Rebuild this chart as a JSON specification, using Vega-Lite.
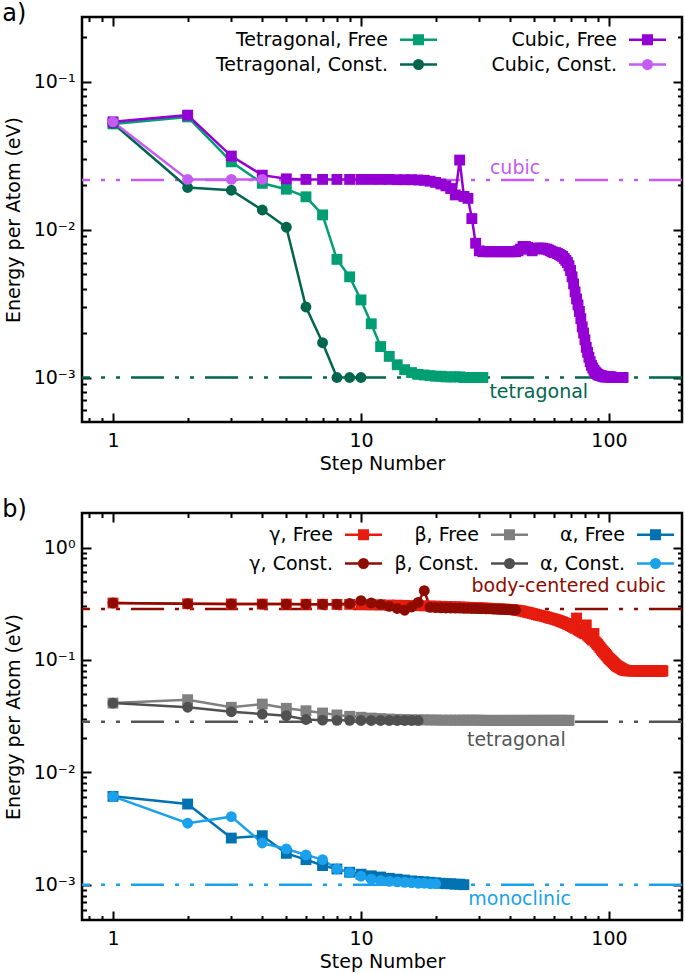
{
  "$schema": "https://vega.github.io/schema/vega-lite/v6.json",
  "padding": {"left": 0, "top": 0, "right": 0, "bottom": 0},
  "autosize": {"type": "pad"},
  "spacing": 21,
  "config": {
    "font": "DejaVu Sans",
    "view": {"stroke": "#000000", "strokeWidth": 2.5},
    "axis": {"domain": false, "grid": false, "tickColor": "#000000", "tickWidth": 2, "tickSize": -9, "labelPadding": 16,
      "labelFont": "DejaVu Sans", "labelFontSize": 19, "labelColor": "#000000", "titleFont": "DejaVu Sans", "titleFontSize": 19,
      "titleFontWeight": "normal", "titleColor": "#000000", "labelFlush": false, "labelOverlap": false},
    "legend": {"labelFont": "DejaVu Sans", "labelFontSize": 19, "labelColor": "#000000", "labelLimit": 400},
    "title": {"font": "DejaVu Sans", "fontSize": 24, "fontWeight": "normal", "color": "#000000"}
  },
  "datasets": {
    "a_ref": [
      {"phase": "cubic", "E": 0.0217, "lx": 41.8},
      {"phase": "tetragonal", "E": 0.001, "lx": 52.1}
    ],
    "b_ref": [
      {"phase": "body-centered cubic", "E": 0.284, "lx": 68.8},
      {"phase": "tetragonal", "E": 0.0282, "lx": 42.3},
      {"phase": "monoclinic", "E": 0.001, "lx": 43.6}
    ],
    "a_pts": [
      {"s":"Tetragonal, Free","step":1,"E":0.052},{"s":"Tetragonal, Free","step":2,"E":0.058},{"s":"Tetragonal, Free","step":3,"E":0.0288},{"s":"Tetragonal, Free","step":4,"E":0.0206},{"s":"Tetragonal, Free","step":5,"E":0.0188},{"s":"Tetragonal, Free","step":6,"E":0.0167},{"s":"Tetragonal, Free","step":7,"E":0.0126},{"s":"Tetragonal, Free","step":8,"E":0.0063},{"s":"Tetragonal, Free","step":9,"E":0.0048},{"s":"Tetragonal, Free","step":10,"E":0.00335},
      {"s":"Tetragonal, Free","step":11,"E":0.00231},{"s":"Tetragonal, Free","step":12,"E":0.00162},{"s":"Tetragonal, Free","step":13,"E":0.00139},{"s":"Tetragonal, Free","step":14,"E":0.00122},{"s":"Tetragonal, Free","step":15,"E":0.00113},{"s":"Tetragonal, Free","step":16,"E":0.00108},{"s":"Tetragonal, Free","step":17,"E":0.00105},{"s":"Tetragonal, Free","step":18,"E":0.00104},{"s":"Tetragonal, Free","step":19,"E":0.00103},{"s":"Tetragonal, Free","step":20,"E":0.00102},
      {"s":"Tetragonal, Free","step":21,"E":0.00102},{"s":"Tetragonal, Free","step":22,"E":0.00101},{"s":"Tetragonal, Free","step":23,"E":0.00101},{"s":"Tetragonal, Free","step":24,"E":0.00101},{"s":"Tetragonal, Free","step":25,"E":0.00101},{"s":"Tetragonal, Free","step":26,"E":0.001},{"s":"Tetragonal, Free","step":27,"E":0.001},{"s":"Tetragonal, Free","step":28,"E":0.001},{"s":"Tetragonal, Free","step":29,"E":0.001},{"s":"Tetragonal, Free","step":30,"E":0.001},{"s":"Tetragonal, Free","step":31,"E":0.001},
      {"s":"Tetragonal, Const.","step":1,"E":0.0525},{"s":"Tetragonal, Const.","step":2,"E":0.0193},{"s":"Tetragonal, Const.","step":3,"E":0.0185},{"s":"Tetragonal, Const.","step":4,"E":0.0136},{"s":"Tetragonal, Const.","step":5,"E":0.0104},{"s":"Tetragonal, Const.","step":6,"E":0.003},{"s":"Tetragonal, Const.","step":7,"E":0.00172},{"s":"Tetragonal, Const.","step":8,"E":0.001},{"s":"Tetragonal, Const.","step":9,"E":0.001},{"s":"Tetragonal, Const.","step":10,"E":0.001},
      {"s":"Cubic, Free","step":1,"E":0.0537},{"s":"Cubic, Free","step":2,"E":0.0596},{"s":"Cubic, Free","step":3,"E":0.0315},{"s":"Cubic, Free","step":4,"E":0.0234},{"s":"Cubic, Free","step":5,"E":0.0221},{"s":"Cubic, Free","step":6,"E":0.0219},{"s":"Cubic, Free","step":7,"E":0.0219},{"s":"Cubic, Free","step":8,"E":0.0219},{"s":"Cubic, Free","step":9,"E":0.0219},{"s":"Cubic, Free","step":10,"E":0.0219},
      {"s":"Cubic, Free","step":11,"E":0.0219},{"s":"Cubic, Free","step":12,"E":0.0219},{"s":"Cubic, Free","step":13,"E":0.0219},{"s":"Cubic, Free","step":14,"E":0.0218},{"s":"Cubic, Free","step":15,"E":0.0218},{"s":"Cubic, Free","step":16,"E":0.0218},{"s":"Cubic, Free","step":17,"E":0.0217},{"s":"Cubic, Free","step":18,"E":0.0216},{"s":"Cubic, Free","step":19,"E":0.0213},{"s":"Cubic, Free","step":20,"E":0.0209},
      {"s":"Cubic, Free","step":21,"E":0.0204},{"s":"Cubic, Free","step":22,"E":0.0198},{"s":"Cubic, Free","step":23,"E":0.019},{"s":"Cubic, Free","step":24,"E":0.0172},{"s":"Cubic, Free","step":25,"E":0.0296},{"s":"Cubic, Free","step":26,"E":0.0168},{"s":"Cubic, Free","step":27,"E":0.0163},{"s":"Cubic, Free","step":28,"E":0.0119},{"s":"Cubic, Free","step":29,"E":0.0081},{"s":"Cubic, Free","step":30,"E":0.0072},
      {"s":"Cubic, Free","step":31,"E":0.0071},{"s":"Cubic, Free","step":32,"E":0.0071},{"s":"Cubic, Free","step":33,"E":0.0071},{"s":"Cubic, Free","step":34,"E":0.0071},{"s":"Cubic, Free","step":35,"E":0.0071},{"s":"Cubic, Free","step":36,"E":0.0071},{"s":"Cubic, Free","step":37,"E":0.0071},{"s":"Cubic, Free","step":38,"E":0.0071},{"s":"Cubic, Free","step":39,"E":0.0071},{"s":"Cubic, Free","step":40,"E":0.0071},
      {"s":"Cubic, Free","step":41,"E":0.0071},{"s":"Cubic, Free","step":42,"E":0.0071},{"s":"Cubic, Free","step":43,"E":0.0072},{"s":"Cubic, Free","step":44,"E":0.0074},{"s":"Cubic, Free","step":45,"E":0.0077},{"s":"Cubic, Free","step":46,"E":0.0077},{"s":"Cubic, Free","step":47,"E":0.0076},{"s":"Cubic, Free","step":48,"E":0.0074},{"s":"Cubic, Free","step":49,"E":0.0072},{"s":"Cubic, Free","step":50,"E":0.0074},
      {"s":"Cubic, Free","step":51,"E":0.0075},{"s":"Cubic, Free","step":52,"E":0.0075},{"s":"Cubic, Free","step":53,"E":0.0075},{"s":"Cubic, Free","step":54,"E":0.0075},{"s":"Cubic, Free","step":55,"E":0.0074},{"s":"Cubic, Free","step":56,"E":0.0074},{"s":"Cubic, Free","step":57,"E":0.0073},{"s":"Cubic, Free","step":58,"E":0.0072},{"s":"Cubic, Free","step":59,"E":0.0071},{"s":"Cubic, Free","step":60,"E":0.007},
      {"s":"Cubic, Free","step":61,"E":0.007},{"s":"Cubic, Free","step":62,"E":0.0069},{"s":"Cubic, Free","step":63,"E":0.0068},{"s":"Cubic, Free","step":64,"E":0.0067},{"s":"Cubic, Free","step":65,"E":0.0066},{"s":"Cubic, Free","step":66,"E":0.0064},{"s":"Cubic, Free","step":67,"E":0.0062},{"s":"Cubic, Free","step":68,"E":0.006},{"s":"Cubic, Free","step":69,"E":0.0057},{"s":"Cubic, Free","step":70,"E":0.0053},
      {"s":"Cubic, Free","step":71,"E":0.0048},{"s":"Cubic, Free","step":72,"E":0.0043},{"s":"Cubic, Free","step":73,"E":0.0038},{"s":"Cubic, Free","step":74,"E":0.0034},{"s":"Cubic, Free","step":75,"E":0.0031},{"s":"Cubic, Free","step":76,"E":0.0028},{"s":"Cubic, Free","step":77,"E":0.0025},{"s":"Cubic, Free","step":78,"E":0.0022},{"s":"Cubic, Free","step":79,"E":0.002},{"s":"Cubic, Free","step":80,"E":0.0018},
      {"s":"Cubic, Free","step":81,"E":0.0016},{"s":"Cubic, Free","step":82,"E":0.00148},{"s":"Cubic, Free","step":83,"E":0.00137},{"s":"Cubic, Free","step":84,"E":0.00128},{"s":"Cubic, Free","step":85,"E":0.00121},{"s":"Cubic, Free","step":86,"E":0.00116},{"s":"Cubic, Free","step":87,"E":0.00112},{"s":"Cubic, Free","step":88,"E":0.00109},{"s":"Cubic, Free","step":89,"E":0.00107},{"s":"Cubic, Free","step":90,"E":0.00105},
      {"s":"Cubic, Free","step":91,"E":0.00104},{"s":"Cubic, Free","step":92,"E":0.00103},{"s":"Cubic, Free","step":93,"E":0.00103},{"s":"Cubic, Free","step":94,"E":0.00102},{"s":"Cubic, Free","step":95,"E":0.00102},{"s":"Cubic, Free","step":96,"E":0.00101},{"s":"Cubic, Free","step":97,"E":0.00101},{"s":"Cubic, Free","step":98,"E":0.00101},{"s":"Cubic, Free","step":99,"E":0.00101},{"s":"Cubic, Free","step":100,"E":0.00101},
      {"s":"Cubic, Free","step":101,"E":0.00101},{"s":"Cubic, Free","step":102,"E":0.00101},{"s":"Cubic, Free","step":103,"E":0.001},{"s":"Cubic, Free","step":104,"E":0.001},{"s":"Cubic, Free","step":105,"E":0.001},{"s":"Cubic, Free","step":106,"E":0.001},{"s":"Cubic, Free","step":107,"E":0.001},{"s":"Cubic, Free","step":108,"E":0.001},{"s":"Cubic, Free","step":109,"E":0.001},{"s":"Cubic, Free","step":110,"E":0.001},
      {"s":"Cubic, Free","step":111,"E":0.001},{"s":"Cubic, Free","step":112,"E":0.001},{"s":"Cubic, Free","step":113,"E":0.001},{"s":"Cubic, Free","step":114,"E":0.001},
      {"s":"Cubic, Const.","step":1,"E":0.0537},{"s":"Cubic, Const.","step":2,"E":0.0219},{"s":"Cubic, Const.","step":3,"E":0.0219},{"s":"Cubic, Const.","step":4,"E":0.0219}
    ],
    "b_pts": [
      {"s":"γ, Free","step":1,"E":0.321},{"s":"γ, Free","step":2,"E":0.316},{"s":"γ, Free","step":3,"E":0.315},{"s":"γ, Free","step":4,"E":0.314},{"s":"γ, Free","step":5,"E":0.314},{"s":"γ, Free","step":6,"E":0.313},{"s":"γ, Free","step":7,"E":0.313},{"s":"γ, Free","step":8,"E":0.312},{"s":"γ, Free","step":9,"E":0.312},{"s":"γ, Free","step":10,"E":0.311},
      {"s":"γ, Free","step":11,"E":0.31},{"s":"γ, Free","step":12,"E":0.309},{"s":"γ, Free","step":13,"E":0.308},{"s":"γ, Free","step":14,"E":0.307},{"s":"γ, Free","step":15,"E":0.306},{"s":"γ, Free","step":16,"E":0.305},{"s":"γ, Free","step":17,"E":0.304},{"s":"γ, Free","step":18,"E":0.303},{"s":"γ, Free","step":19,"E":0.302},{"s":"γ, Free","step":20,"E":0.301},
      {"s":"γ, Free","step":21,"E":0.3},{"s":"γ, Free","step":22,"E":0.299},{"s":"γ, Free","step":23,"E":0.298},{"s":"γ, Free","step":24,"E":0.297},{"s":"γ, Free","step":25,"E":0.296},{"s":"γ, Free","step":26,"E":0.295},{"s":"γ, Free","step":27,"E":0.294},{"s":"γ, Free","step":28,"E":0.293},{"s":"γ, Free","step":29,"E":0.292},{"s":"γ, Free","step":30,"E":0.291},
      {"s":"γ, Free","step":31,"E":0.29},{"s":"γ, Free","step":32,"E":0.289},{"s":"γ, Free","step":33,"E":0.288},{"s":"γ, Free","step":34,"E":0.287},{"s":"γ, Free","step":35,"E":0.286},{"s":"γ, Free","step":36,"E":0.285},{"s":"γ, Free","step":37,"E":0.284},{"s":"γ, Free","step":38,"E":0.283},{"s":"γ, Free","step":39,"E":0.282},{"s":"γ, Free","step":40,"E":0.281},
      {"s":"γ, Free","step":41,"E":0.28},{"s":"γ, Free","step":42,"E":0.278},{"s":"γ, Free","step":43,"E":0.276},{"s":"γ, Free","step":44,"E":0.274},{"s":"γ, Free","step":45,"E":0.271},{"s":"γ, Free","step":46,"E":0.268},{"s":"γ, Free","step":47,"E":0.265},{"s":"γ, Free","step":48,"E":0.262},{"s":"γ, Free","step":49,"E":0.259},{"s":"γ, Free","step":50,"E":0.256},
      {"s":"γ, Free","step":51,"E":0.253},{"s":"γ, Free","step":52,"E":0.25},{"s":"γ, Free","step":53,"E":0.248},{"s":"γ, Free","step":54,"E":0.246},{"s":"γ, Free","step":55,"E":0.244},{"s":"γ, Free","step":56,"E":0.241},{"s":"γ, Free","step":57,"E":0.238},{"s":"γ, Free","step":58,"E":0.235},{"s":"γ, Free","step":59,"E":0.233},{"s":"γ, Free","step":60,"E":0.231},
      {"s":"γ, Free","step":61,"E":0.228},{"s":"γ, Free","step":62,"E":0.226},{"s":"γ, Free","step":63,"E":0.223},{"s":"γ, Free","step":64,"E":0.22},{"s":"γ, Free","step":65,"E":0.217},{"s":"γ, Free","step":66,"E":0.214},{"s":"γ, Free","step":67,"E":0.211},{"s":"γ, Free","step":68,"E":0.208},{"s":"γ, Free","step":69,"E":0.205},{"s":"γ, Free","step":70,"E":0.202},
      {"s":"γ, Free","step":71,"E":0.198},{"s":"γ, Free","step":72,"E":0.195},{"s":"γ, Free","step":73,"E":0.191},{"s":"γ, Free","step":74,"E":0.236},{"s":"γ, Free","step":75,"E":0.186},{"s":"γ, Free","step":76,"E":0.183},{"s":"γ, Free","step":77,"E":0.18},{"s":"γ, Free","step":78,"E":0.177},{"s":"γ, Free","step":79,"E":0.174},{"s":"γ, Free","step":80,"E":0.171},
      {"s":"γ, Free","step":81,"E":0.205},{"s":"γ, Free","step":82,"E":0.166},{"s":"γ, Free","step":83,"E":0.162},{"s":"γ, Free","step":84,"E":0.158},{"s":"γ, Free","step":85,"E":0.154},{"s":"γ, Free","step":86,"E":0.15},{"s":"γ, Free","step":87,"E":0.172},{"s":"γ, Free","step":88,"E":0.145},{"s":"γ, Free","step":89,"E":0.141},{"s":"γ, Free","step":90,"E":0.137},
      {"s":"γ, Free","step":91,"E":0.133},{"s":"γ, Free","step":92,"E":0.129},{"s":"γ, Free","step":93,"E":0.125},{"s":"γ, Free","step":94,"E":0.121},{"s":"γ, Free","step":95,"E":0.118},{"s":"γ, Free","step":96,"E":0.115},{"s":"γ, Free","step":97,"E":0.112},{"s":"γ, Free","step":98,"E":0.109},{"s":"γ, Free","step":99,"E":0.106},{"s":"γ, Free","step":100,"E":0.103},
      {"s":"γ, Free","step":101,"E":0.101},{"s":"γ, Free","step":102,"E":0.099},{"s":"γ, Free","step":103,"E":0.097},{"s":"γ, Free","step":104,"E":0.095},{"s":"γ, Free","step":105,"E":0.093},{"s":"γ, Free","step":106,"E":0.091},{"s":"γ, Free","step":107,"E":0.089},{"s":"γ, Free","step":108,"E":0.088},{"s":"γ, Free","step":109,"E":0.087},{"s":"γ, Free","step":110,"E":0.086},
      {"s":"γ, Free","step":111,"E":0.085},{"s":"γ, Free","step":112,"E":0.084},{"s":"γ, Free","step":113,"E":0.083},{"s":"γ, Free","step":114,"E":0.082},{"s":"γ, Free","step":115,"E":0.0815},{"s":"γ, Free","step":116,"E":0.081},{"s":"γ, Free","step":117,"E":0.0805},{"s":"γ, Free","step":118,"E":0.0802},{"s":"γ, Free","step":119,"E":0.0802},{"s":"γ, Free","step":120,"E":0.0802},
      {"s":"γ, Free","step":121,"E":0.0802},{"s":"γ, Free","step":122,"E":0.0802},{"s":"γ, Free","step":123,"E":0.0802},{"s":"γ, Free","step":124,"E":0.0801},{"s":"γ, Free","step":125,"E":0.0801},{"s":"γ, Free","step":126,"E":0.08},{"s":"γ, Free","step":127,"E":0.08},{"s":"γ, Free","step":128,"E":0.08},{"s":"γ, Free","step":129,"E":0.08},{"s":"γ, Free","step":130,"E":0.08},
      {"s":"γ, Free","step":131,"E":0.08},{"s":"γ, Free","step":132,"E":0.08},{"s":"γ, Free","step":133,"E":0.08},{"s":"γ, Free","step":134,"E":0.08},{"s":"γ, Free","step":135,"E":0.08},{"s":"γ, Free","step":136,"E":0.08},{"s":"γ, Free","step":137,"E":0.08},{"s":"γ, Free","step":138,"E":0.08},{"s":"γ, Free","step":139,"E":0.08},{"s":"γ, Free","step":140,"E":0.08},
      {"s":"γ, Free","step":141,"E":0.0799},{"s":"γ, Free","step":142,"E":0.0799},{"s":"γ, Free","step":143,"E":0.0799},{"s":"γ, Free","step":144,"E":0.0799},{"s":"γ, Free","step":145,"E":0.0799},{"s":"γ, Free","step":146,"E":0.0799},{"s":"γ, Free","step":147,"E":0.0799},{"s":"γ, Free","step":148,"E":0.0799},{"s":"γ, Free","step":149,"E":0.0799},{"s":"γ, Free","step":150,"E":0.0799},
      {"s":"γ, Free","step":151,"E":0.0798},{"s":"γ, Free","step":152,"E":0.0798},{"s":"γ, Free","step":153,"E":0.0798},{"s":"γ, Free","step":154,"E":0.0798},{"s":"γ, Free","step":155,"E":0.0798},{"s":"γ, Free","step":156,"E":0.0798},{"s":"γ, Free","step":157,"E":0.0798},{"s":"γ, Free","step":158,"E":0.0798},{"s":"γ, Free","step":159,"E":0.0798},{"s":"γ, Free","step":160,"E":0.0798},
      {"s":"γ, Free","step":161,"E":0.0798},{"s":"γ, Free","step":162,"E":0.0798},{"s":"γ, Free","step":163,"E":0.0798},{"s":"γ, Free","step":164,"E":0.0798},{"s":"γ, Free","step":165,"E":0.0798},
      {"s":"γ, Const.","step":1,"E":0.321},{"s":"γ, Const.","step":2,"E":0.316},{"s":"γ, Const.","step":3,"E":0.315},{"s":"γ, Const.","step":4,"E":0.314},{"s":"γ, Const.","step":5,"E":0.314},{"s":"γ, Const.","step":6,"E":0.313},{"s":"γ, Const.","step":7,"E":0.313},{"s":"γ, Const.","step":8,"E":0.313},{"s":"γ, Const.","step":9,"E":0.318},{"s":"γ, Const.","step":10,"E":0.337},
      {"s":"γ, Const.","step":11,"E":0.322},{"s":"γ, Const.","step":12,"E":0.312},{"s":"γ, Const.","step":13,"E":0.3},{"s":"γ, Const.","step":14,"E":0.287},{"s":"γ, Const.","step":15,"E":0.277},{"s":"γ, Const.","step":16,"E":0.296},{"s":"γ, Const.","step":17,"E":0.325},{"s":"γ, Const.","step":18,"E":0.413},{"s":"γ, Const.","step":19,"E":0.294},{"s":"γ, Const.","step":20,"E":0.292},
      {"s":"γ, Const.","step":21,"E":0.291},{"s":"γ, Const.","step":22,"E":0.29},{"s":"γ, Const.","step":23,"E":0.29},{"s":"γ, Const.","step":24,"E":0.289},{"s":"γ, Const.","step":25,"E":0.289},{"s":"γ, Const.","step":26,"E":0.288},{"s":"γ, Const.","step":27,"E":0.288},{"s":"γ, Const.","step":28,"E":0.287},{"s":"γ, Const.","step":29,"E":0.287},{"s":"γ, Const.","step":30,"E":0.286},
      {"s":"γ, Const.","step":31,"E":0.286},{"s":"γ, Const.","step":32,"E":0.285},{"s":"γ, Const.","step":33,"E":0.285},{"s":"γ, Const.","step":34,"E":0.284},{"s":"γ, Const.","step":35,"E":0.283},{"s":"γ, Const.","step":36,"E":0.283},{"s":"γ, Const.","step":37,"E":0.282},{"s":"γ, Const.","step":38,"E":0.281},{"s":"γ, Const.","step":39,"E":0.281},{"s":"γ, Const.","step":40,"E":0.28},
      {"s":"γ, Const.","step":41,"E":0.279},{"s":"γ, Const.","step":42,"E":0.278},
      {"s":"β, Free","step":1,"E":0.0413},{"s":"β, Free","step":2,"E":0.0443},{"s":"β, Free","step":3,"E":0.0379},{"s":"β, Free","step":4,"E":0.0405},{"s":"β, Free","step":5,"E":0.0371},{"s":"β, Free","step":6,"E":0.0353},{"s":"β, Free","step":7,"E":0.0337},{"s":"β, Free","step":8,"E":0.0324},{"s":"β, Free","step":9,"E":0.0315},{"s":"β, Free","step":10,"E":0.0309},
      {"s":"β, Free","step":11,"E":0.0304},{"s":"β, Free","step":12,"E":0.0301},{"s":"β, Free","step":13,"E":0.0298},{"s":"β, Free","step":14,"E":0.0296},{"s":"β, Free","step":15,"E":0.0295},{"s":"β, Free","step":16,"E":0.0294},{"s":"β, Free","step":17,"E":0.0293},{"s":"β, Free","step":18,"E":0.0293},{"s":"β, Free","step":19,"E":0.0292},{"s":"β, Free","step":20,"E":0.0292},
      {"s":"β, Free","step":21,"E":0.0291},{"s":"β, Free","step":22,"E":0.0291},{"s":"β, Free","step":23,"E":0.0291},{"s":"β, Free","step":24,"E":0.0291},{"s":"β, Free","step":25,"E":0.0291},{"s":"β, Free","step":26,"E":0.0291},{"s":"β, Free","step":27,"E":0.0291},{"s":"β, Free","step":28,"E":0.0291},{"s":"β, Free","step":29,"E":0.0291},{"s":"β, Free","step":30,"E":0.0291},
      {"s":"β, Free","step":31,"E":0.029},{"s":"β, Free","step":32,"E":0.029},{"s":"β, Free","step":33,"E":0.029},{"s":"β, Free","step":34,"E":0.029},{"s":"β, Free","step":35,"E":0.029},{"s":"β, Free","step":36,"E":0.029},{"s":"β, Free","step":37,"E":0.029},{"s":"β, Free","step":38,"E":0.029},{"s":"β, Free","step":39,"E":0.029},{"s":"β, Free","step":40,"E":0.029},
      {"s":"β, Free","step":41,"E":0.029},{"s":"β, Free","step":42,"E":0.029},{"s":"β, Free","step":43,"E":0.029},{"s":"β, Free","step":44,"E":0.029},{"s":"β, Free","step":45,"E":0.029},{"s":"β, Free","step":46,"E":0.029},{"s":"β, Free","step":47,"E":0.029},{"s":"β, Free","step":48,"E":0.029},{"s":"β, Free","step":49,"E":0.029},{"s":"β, Free","step":50,"E":0.029},
      {"s":"β, Free","step":51,"E":0.029},{"s":"β, Free","step":52,"E":0.029},{"s":"β, Free","step":53,"E":0.029},{"s":"β, Free","step":54,"E":0.029},{"s":"β, Free","step":55,"E":0.029},{"s":"β, Free","step":56,"E":0.029},{"s":"β, Free","step":57,"E":0.029},{"s":"β, Free","step":58,"E":0.029},{"s":"β, Free","step":59,"E":0.029},{"s":"β, Free","step":60,"E":0.029},
      {"s":"β, Free","step":61,"E":0.029},{"s":"β, Free","step":62,"E":0.029},{"s":"β, Free","step":63,"E":0.029},{"s":"β, Free","step":64,"E":0.029},{"s":"β, Free","step":65,"E":0.029},{"s":"β, Free","step":66,"E":0.029},{"s":"β, Free","step":67,"E":0.029},{"s":"β, Free","step":68,"E":0.029},{"s":"β, Free","step":69,"E":0.029},
      {"s":"β, Const.","step":1,"E":0.0413},{"s":"β, Const.","step":2,"E":0.0379},{"s":"β, Const.","step":3,"E":0.0346},{"s":"β, Const.","step":4,"E":0.033},{"s":"β, Const.","step":5,"E":0.0319},{"s":"β, Const.","step":6,"E":0.0295},{"s":"β, Const.","step":7,"E":0.0291},{"s":"β, Const.","step":8,"E":0.029},{"s":"β, Const.","step":9,"E":0.029},{"s":"β, Const.","step":10,"E":0.0289},
      {"s":"β, Const.","step":11,"E":0.0289},{"s":"β, Const.","step":12,"E":0.0289},{"s":"β, Const.","step":13,"E":0.0289},{"s":"β, Const.","step":14,"E":0.0289},{"s":"β, Const.","step":15,"E":0.0289},{"s":"β, Const.","step":16,"E":0.0289},{"s":"β, Const.","step":17,"E":0.0289},
      {"s":"α, Free","step":1,"E":0.00611},{"s":"α, Free","step":2,"E":0.00522},{"s":"α, Free","step":3,"E":0.0026},{"s":"α, Free","step":4,"E":0.00273},{"s":"α, Free","step":5,"E":0.0019},{"s":"α, Free","step":6,"E":0.00167},{"s":"α, Free","step":7,"E":0.00148},{"s":"α, Free","step":8,"E":0.00138},{"s":"α, Free","step":9,"E":0.00129},{"s":"α, Free","step":10,"E":0.00124},
      {"s":"α, Free","step":11,"E":0.0012},{"s":"α, Free","step":12,"E":0.00117},{"s":"α, Free","step":13,"E":0.00114},{"s":"α, Free","step":14,"E":0.00112},{"s":"α, Free","step":15,"E":0.0011},{"s":"α, Free","step":16,"E":0.00108},{"s":"α, Free","step":17,"E":0.00107},{"s":"α, Free","step":18,"E":0.00106},{"s":"α, Free","step":19,"E":0.00105},{"s":"α, Free","step":20,"E":0.00104},
      {"s":"α, Free","step":21,"E":0.00103},{"s":"α, Free","step":22,"E":0.00102},{"s":"α, Free","step":23,"E":0.00102},{"s":"α, Free","step":24,"E":0.00101},{"s":"α, Free","step":25,"E":0.00101},{"s":"α, Free","step":26,"E":0.001},
      {"s":"α, Const.","step":1,"E":0.00611},{"s":"α, Const.","step":2,"E":0.00352},{"s":"α, Const.","step":3,"E":0.00403},{"s":"α, Const.","step":4,"E":0.00235},{"s":"α, Const.","step":5,"E":0.00208},{"s":"α, Const.","step":6,"E":0.00184},{"s":"α, Const.","step":7,"E":0.00167},{"s":"α, Const.","step":8,"E":0.00138},{"s":"α, Const.","step":9,"E":0.00128},{"s":"α, Const.","step":10,"E":0.00119},
      {"s":"α, Const.","step":11,"E":0.00112},{"s":"α, Const.","step":12,"E":0.00109},{"s":"α, Const.","step":13,"E":0.00107},{"s":"α, Const.","step":14,"E":0.00106},{"s":"α, Const.","step":15,"E":0.00105},{"s":"α, Const.","step":16,"E":0.00104},{"s":"α, Const.","step":17,"E":0.00103},{"s":"α, Const.","step":18,"E":0.00103},{"s":"α, Const.","step":19,"E":0.00102},{"s":"α, Const.","step":20,"E":0.00102}
    ]
  },
  "resolve": {
    "scale": {"color": "independent", "shape": "independent", "stroke": "independent", "fill": "independent"},
    "legend": {"color": "independent", "shape": "independent", "stroke": "independent", "fill": "independent"}
  },
  "vconcat": [
    {
      "title": {"text": "a)", "anchor": "start", "frame": "bounds", "offset": -10, "dx": -2},
      "width": 600,
      "height": 405,
      "resolve": {"axis": {"x": "independent", "y": "independent"}, "scale": {"fill": "independent", "stroke": "independent", "shape": "independent"}},
      "layer": [
        {
          "data": {"name": "a_ref"},
          "mark": {"type": "rule", "strokeWidth": 2.5, "strokeDash": [33, 11, 4, 11, 4, 11]},
          "encoding": {
            "y": {"field": "E", "type": "quantitative", "scale": {"type": "log", "domain": [0.0005, 0.275], "nice": false},
              "axis": {"orient": "left", "title": "Energy per Atom (eV)", "titlePadding": 10,
                "values": [0.0006,0.0007,0.0008,0.0009,0.001,0.002,0.003,0.004,0.005,0.006,0.007,0.008,0.009,0.01,0.02,0.03,0.04,0.05,0.06,0.07,0.08,0.09,0.1,0.2],
                "labelExpr": "datum.value == 0.1 ? '10⁻¹' : datum.value == 0.01 ? '10⁻²' : datum.value == 0.001 ? '10⁻³' : ''",
                "tickDash": {"condition": {"test": "abs(log(datum.value)/LN10 - round(log(datum.value)/LN10)) < 0.000001", "value": [20, 0]}, "value": [4.5, 30]}}},
            "stroke": {"field": "phase", "type": "nominal", "scale": {"domain": ["cubic", "tetragonal"], "range": ["#c45cf2", "#00664d"]}, "legend": null}
          }
        },
        {
          "data": {"name": "a_ref"},
          "transform": [{"filter": "datum.phase == 'cubic'"}],
          "mark": {"type": "text", "fontSize": 19, "font": "DejaVu Sans", "align": "center", "baseline": "alphabetic", "dy": -6},
          "encoding": {
            "x": {"field": "lx", "type": "quantitative", "scale": {"type": "log", "domain": [0.75, 197], "nice": false},
              "axis": {"orient": "top", "title": null, "labels": false,
                "values": [0.8,0.9,1,2,3,4,5,6,7,8,9,10,20,30,40,50,60,70,80,90,100],
                "tickDash": {"condition": {"test": "abs(log(datum.value)/LN10 - round(log(datum.value)/LN10)) < 0.000001", "value": [20, 0]}, "value": [4.5, 30]}}},
            "y": {"field": "E", "type": "quantitative", "scale": {"type": "log", "domain": [0.0005, 0.275], "nice": false},
              "axis": {"orient": "right", "title": null, "labels": false,
                "values": [0.0006,0.0007,0.0008,0.0009,0.001,0.002,0.003,0.004,0.005,0.006,0.007,0.008,0.009,0.01,0.02,0.03,0.04,0.05,0.06,0.07,0.08,0.09,0.1,0.2],
                "tickDash": {"condition": {"test": "abs(log(datum.value)/LN10 - round(log(datum.value)/LN10)) < 0.000001", "value": [20, 0]}, "value": [4.5, 30]}}},
            "text": {"field": "phase"},
            "fill": {"field": "phase", "type": "nominal", "scale": {"domain": ["cubic", "tetragonal"], "range": ["#c45cf2", "#00664d"]}, "legend": null}
          }
        },
        {
          "data": {"name": "a_ref"},
          "transform": [{"filter": "datum.phase == 'tetragonal'"}],
          "mark": {"type": "text", "fontSize": 19, "font": "DejaVu Sans", "align": "center", "baseline": "alphabetic", "dy": 20},
          "encoding": {
            "x": {"field": "lx", "type": "quantitative", "scale": {"type": "log", "domain": [0.75, 197], "nice": false}, "axis": null},
            "y": {"field": "E", "type": "quantitative", "scale": {"type": "log", "domain": [0.0005, 0.275], "nice": false}, "axis": null},
            "text": {"field": "phase"},
            "fill": {"field": "phase", "type": "nominal", "scale": {"domain": ["cubic", "tetragonal"], "range": ["#c45cf2", "#00664d"]}, "legend": null}
          }
        },
        {
          "data": {"name": "a_pts"},
          "mark": {"type": "line", "strokeWidth": 2.5},
          "encoding": {
            "x": {"field": "step", "type": "quantitative", "scale": {"type": "log", "domain": [0.75, 197], "nice": false},
              "axis": {"orient": "bottom", "title": "Step Number", "titlePadding": 4, "labelPadding": 18,
                "values": [0.8,0.9,1,2,3,4,5,6,7,8,9,10,20,30,40,50,60,70,80,90,100],
                "labelExpr": "datum.value == 1 ? '1' : datum.value == 10 ? '10' : datum.value == 100 ? '100' : ''",
                "tickDash": {"condition": {"test": "abs(log(datum.value)/LN10 - round(log(datum.value)/LN10)) < 0.000001", "value": [20, 0]}, "value": [4.5, 30]}}},
            "y": {"field": "E", "type": "quantitative", "scale": {"type": "log", "domain": [0.0005, 0.275], "nice": false}, "axis": null},
            "color": {"field": "s", "type": "nominal",
              "scale": {"domain": ["Tetragonal, Free", "Cubic, Free", "Tetragonal, Const.", "Cubic, Const."], "range": ["#009e73", "#9400d3", "#00664d", "#c45cf2"]},
              "legend": null}
          }
        },
        {
          "data": {"name": "a_pts"},
          "mark": {"type": "point", "filled": true, "opacity": 1, "size": 118},
          "encoding": {
            "x": {"field": "step", "type": "quantitative", "scale": {"type": "log", "domain": [0.75, 197], "nice": false}, "axis": null},
            "y": {"field": "E", "type": "quantitative", "scale": {"type": "log", "domain": [0.0005, 0.275], "nice": false}, "axis": null},
            "shape": {"field": "s", "type": "nominal",
              "scale": {"domain": ["Tetragonal, Free", "Cubic, Free", "Tetragonal, Const.", "Cubic, Const."], "range": ["square", "square", "circle", "circle"]},
              "legend": null},
            "color": {"field": "s", "type": "nominal",
              "scale": {"domain": ["Tetragonal, Free", "Cubic, Free", "Tetragonal, Const.", "Cubic, Const."], "range": ["#009e73", "#9400d3", "#00664d", "#c45cf2"]},
              "legend": null}
          }
        },
        {
          "data": {"name": "a_pts"},
          "transform": [{"filter": "false"}],
          "mark": {"type": "point", "filled": true, "opacity": 1, "size": 100, "strokeWidth": 2.5},
          "encoding": {
            "fill": {"field": "s", "type": "nominal",
              "scale": {"domain": ["Tetragonal, Free", "Tetragonal, Const.", "Cubic, Free", "Cubic, Const."], "range": ["#009e73", "#00664d", "#9400d3", "#c45cf2"]},
              "legend": {"orient": "none", "legendX": 327, "legendY": 13, "title": null, "columns": 2, "columnPadding": 49, "rowPadding": 5, "padding": 0, "labelAlign": "right", "labelOffset": -40, "symbolSize": 100, "symbolStrokeWidth": 2.5}},
            "stroke": {"field": "s", "type": "nominal",
              "scale": {"domain": ["Tetragonal, Free", "Tetragonal, Const.", "Cubic, Free", "Cubic, Const."], "range": ["#009e73", "#00664d", "#9400d3", "#c45cf2"]},
              "legend": {"orient": "none", "legendX": 327, "legendY": 13, "title": null, "columns": 2, "columnPadding": 49, "rowPadding": 5, "padding": 0, "labelAlign": "right", "labelOffset": -40, "symbolSize": 100, "symbolStrokeWidth": 2.5}},
            "shape": {"field": "s", "type": "nominal",
              "scale": {"domain": ["Tetragonal, Free", "Tetragonal, Const.", "Cubic, Free", "Cubic, Const."],
                "range": ["M-3.7,0H3.7M-0.85,-0.85H0.85V0.85H-0.85Z", "M-3.7,0H3.7M-0.85,0C-0.85,-0.469,-0.469,-0.85,0,-0.85C0.469,-0.85,0.85,-0.469,0.85,0C0.85,0.469,0.469,0.85,0,0.85C-0.469,0.85,-0.85,0.469,-0.85,0Z", "M-3.7,0H3.7M-0.85,-0.85H0.85V0.85H-0.85Z", "M-3.7,0H3.7M-0.85,0C-0.85,-0.469,-0.469,-0.85,0,-0.85C0.469,-0.85,0.85,-0.469,0.85,0C0.85,0.469,0.469,0.85,0,0.85C-0.469,0.85,-0.85,0.469,-0.85,0Z"]},
              "legend": {"orient": "none", "legendX": 327, "legendY": 13, "title": null, "columns": 2, "columnPadding": 49, "rowPadding": 5, "padding": 0, "labelAlign": "right", "labelOffset": -40, "symbolSize": 100, "symbolStrokeWidth": 2.5}}
          }
        }
      ]
    },
    {
      "title": {"text": "b)", "anchor": "start", "frame": "bounds", "offset": -10, "dx": -2},
      "width": 600,
      "height": 407,
      "resolve": {"axis": {"x": "independent", "y": "independent"}, "scale": {"fill": "independent", "stroke": "independent", "shape": "independent"}},
      "layer": [
        {
          "data": {"name": "b_ref"},
          "mark": {"type": "rule", "strokeWidth": 2.5, "strokeDash": [33, 11, 4, 11, 4, 11]},
          "encoding": {
            "y": {"field": "E", "type": "quantitative", "scale": {"type": "log", "domain": [0.000485, 2.03], "nice": false},
              "axis": {"orient": "left", "title": "Energy per Atom (eV)", "titlePadding": 10,
                "values": [0.0006,0.0007,0.0008,0.0009,0.001,0.002,0.003,0.004,0.005,0.006,0.007,0.008,0.009,0.01,0.02,0.03,0.04,0.05,0.06,0.07,0.08,0.09,0.1,0.2,0.3,0.4,0.5,0.6,0.7,0.8,0.9,1],
                "labelExpr": "datum.value == 1 ? '10⁰' : datum.value == 0.1 ? '10⁻¹' : datum.value == 0.01 ? '10⁻²' : datum.value == 0.001 ? '10⁻³' : ''",
                "tickDash": {"condition": {"test": "abs(log(datum.value)/LN10 - round(log(datum.value)/LN10)) < 0.000001", "value": [20, 0]}, "value": [4.5, 30]}}},
            "stroke": {"field": "phase", "type": "nominal", "scale": {"domain": ["body-centered cubic", "tetragonal", "monoclinic"], "range": ["#8e0b00", "#555555", "#1ba1ec"]}, "legend": null}
          }
        },
        {
          "data": {"name": "b_ref"},
          "transform": [{"filter": "datum.phase == 'body-centered cubic'"}],
          "mark": {"type": "text", "fontSize": 19, "font": "DejaVu Sans", "align": "center", "baseline": "alphabetic", "dy": -17},
          "encoding": {
            "x": {"field": "lx", "type": "quantitative", "scale": {"type": "log", "domain": [0.75, 197], "nice": false},
              "axis": {"orient": "top", "title": null, "labels": false,
                "values": [0.8,0.9,1,2,3,4,5,6,7,8,9,10,20,30,40,50,60,70,80,90,100],
                "tickDash": {"condition": {"test": "abs(log(datum.value)/LN10 - round(log(datum.value)/LN10)) < 0.000001", "value": [20, 0]}, "value": [4.5, 30]}}},
            "y": {"field": "E", "type": "quantitative", "scale": {"type": "log", "domain": [0.000485, 2.03], "nice": false},
              "axis": {"orient": "right", "title": null, "labels": false,
                "values": [0.0006,0.0007,0.0008,0.0009,0.001,0.002,0.003,0.004,0.005,0.006,0.007,0.008,0.009,0.01,0.02,0.03,0.04,0.05,0.06,0.07,0.08,0.09,0.1,0.2,0.3,0.4,0.5,0.6,0.7,0.8,0.9,1],
                "tickDash": {"condition": {"test": "abs(log(datum.value)/LN10 - round(log(datum.value)/LN10)) < 0.000001", "value": [20, 0]}, "value": [4.5, 30]}}},
            "text": {"field": "phase"},
            "fill": {"field": "phase", "type": "nominal", "scale": {"domain": ["body-centered cubic", "tetragonal", "monoclinic"], "range": ["#8e0b00", "#555555", "#1ba1ec"]}, "legend": null}
          }
        },
        {
          "data": {"name": "b_ref"},
          "transform": [{"filter": "datum.phase == 'tetragonal'"}],
          "mark": {"type": "text", "fontSize": 19, "font": "DejaVu Sans", "align": "center", "baseline": "alphabetic", "dy": 24},
          "encoding": {
            "x": {"field": "lx", "type": "quantitative", "scale": {"type": "log", "domain": [0.75, 197], "nice": false}, "axis": null},
            "y": {"field": "E", "type": "quantitative", "scale": {"type": "log", "domain": [0.000485, 2.03], "nice": false}, "axis": null},
            "text": {"field": "phase"},
            "fill": {"field": "phase", "type": "nominal", "scale": {"domain": ["body-centered cubic", "tetragonal", "monoclinic"], "range": ["#8e0b00", "#555555", "#1ba1ec"]}, "legend": null}
          }
        },
        {
          "data": {"name": "b_ref"},
          "transform": [{"filter": "datum.phase == 'monoclinic'"}],
          "mark": {"type": "text", "fontSize": 19, "font": "DejaVu Sans", "align": "center", "baseline": "alphabetic", "dy": 20},
          "encoding": {
            "x": {"field": "lx", "type": "quantitative", "scale": {"type": "log", "domain": [0.75, 197], "nice": false}, "axis": null},
            "y": {"field": "E", "type": "quantitative", "scale": {"type": "log", "domain": [0.000485, 2.03], "nice": false}, "axis": null},
            "text": {"field": "phase"},
            "fill": {"field": "phase", "type": "nominal", "scale": {"domain": ["body-centered cubic", "tetragonal", "monoclinic"], "range": ["#8e0b00", "#555555", "#1ba1ec"]}, "legend": null}
          }
        },
        {
          "data": {"name": "b_pts"},
          "mark": {"type": "line", "strokeWidth": 2.5},
          "encoding": {
            "x": {"field": "step", "type": "quantitative", "scale": {"type": "log", "domain": [0.75, 197], "nice": false},
              "axis": {"orient": "bottom", "title": "Step Number", "titlePadding": 4, "labelPadding": 18,
                "values": [0.8,0.9,1,2,3,4,5,6,7,8,9,10,20,30,40,50,60,70,80,90,100],
                "labelExpr": "datum.value == 1 ? '1' : datum.value == 10 ? '10' : datum.value == 100 ? '100' : ''",
                "tickDash": {"condition": {"test": "abs(log(datum.value)/LN10 - round(log(datum.value)/LN10)) < 0.000001", "value": [20, 0]}, "value": [4.5, 30]}}},
            "y": {"field": "E", "type": "quantitative", "scale": {"type": "log", "domain": [0.000485, 2.03], "nice": false}, "axis": null},
            "color": {"field": "s", "type": "nominal",
              "scale": {"domain": ["γ, Free", "β, Free", "α, Free", "γ, Const.", "β, Const.", "α, Const."], "range": ["#e51c0e", "#808080", "#0072b2", "#8e0b00", "#505050", "#1ba1ec"]},
              "legend": null}
          }
        },
        {
          "data": {"name": "b_pts"},
          "mark": {"type": "point", "filled": true, "opacity": 1, "size": 118},
          "encoding": {
            "x": {"field": "step", "type": "quantitative", "scale": {"type": "log", "domain": [0.75, 197], "nice": false}, "axis": null},
            "y": {"field": "E", "type": "quantitative", "scale": {"type": "log", "domain": [0.000485, 2.03], "nice": false}, "axis": null},
            "shape": {"field": "s", "type": "nominal",
              "scale": {"domain": ["γ, Free", "β, Free", "α, Free", "γ, Const.", "β, Const.", "α, Const."], "range": ["square", "square", "square", "circle", "circle", "circle"]},
              "legend": null},
            "color": {"field": "s", "type": "nominal",
              "scale": {"domain": ["γ, Free", "β, Free", "α, Free", "γ, Const.", "β, Const.", "α, Const."], "range": ["#e51c0e", "#808080", "#0072b2", "#8e0b00", "#505050", "#1ba1ec"]},
              "legend": null}
          }
        },
        {
          "data": {"name": "b_pts"},
          "transform": [{"filter": "false"}],
          "mark": {"type": "point", "filled": true, "opacity": 1, "size": 100, "strokeWidth": 2.5},
          "encoding": {
            "fill": {"field": "s", "type": "nominal",
              "scale": {"domain": ["γ, Free", "γ, Const.", "β, Free", "β, Const.", "α, Free", "α, Const."], "range": ["#e51c0e", "#8e0b00", "#808080", "#505050", "#0072b2", "#1ba1ec"]},
              "legend": {"orient": "none", "legendX": 272, "legendY": 12, "title": null, "columns": 3, "columnPadding": 7, "rowPadding": 9, "padding": 0, "labelAlign": "right", "labelOffset": -40, "symbolSize": 100, "symbolStrokeWidth": 2.5}},
            "stroke": {"field": "s", "type": "nominal",
              "scale": {"domain": ["γ, Free", "γ, Const.", "β, Free", "β, Const.", "α, Free", "α, Const."], "range": ["#e51c0e", "#8e0b00", "#808080", "#505050", "#0072b2", "#1ba1ec"]},
              "legend": {"orient": "none", "legendX": 272, "legendY": 12, "title": null, "columns": 3, "columnPadding": 7, "rowPadding": 9, "padding": 0, "labelAlign": "right", "labelOffset": -40, "symbolSize": 100, "symbolStrokeWidth": 2.5}},
            "shape": {"field": "s", "type": "nominal",
              "scale": {"domain": ["γ, Free", "γ, Const.", "β, Free", "β, Const.", "α, Free", "α, Const."],
                "range": ["M-3.7,0H3.7M-0.85,-0.85H0.85V0.85H-0.85Z", "M-3.7,0H3.7M-0.85,0C-0.85,-0.469,-0.469,-0.85,0,-0.85C0.469,-0.85,0.85,-0.469,0.85,0C0.85,0.469,0.469,0.85,0,0.85C-0.469,0.85,-0.85,0.469,-0.85,0Z", "M-3.7,0H3.7M-0.85,-0.85H0.85V0.85H-0.85Z", "M-3.7,0H3.7M-0.85,0C-0.85,-0.469,-0.469,-0.85,0,-0.85C0.469,-0.85,0.85,-0.469,0.85,0C0.85,0.469,0.469,0.85,0,0.85C-0.469,0.85,-0.85,0.469,-0.85,0Z", "M-3.7,0H3.7M-0.85,-0.85H0.85V0.85H-0.85Z", "M-3.7,0H3.7M-0.85,0C-0.85,-0.469,-0.469,-0.85,0,-0.85C0.469,-0.85,0.85,-0.469,0.85,0C0.85,0.469,0.469,0.85,0,0.85C-0.469,0.85,-0.85,0.469,-0.85,0Z"]},
              "legend": {"orient": "none", "legendX": 272, "legendY": 12, "title": null, "columns": 3, "columnPadding": 7, "rowPadding": 9, "padding": 0, "labelAlign": "right", "labelOffset": -40, "symbolSize": 100, "symbolStrokeWidth": 2.5}}
          }
        }
      ]
    }
  ]
}
